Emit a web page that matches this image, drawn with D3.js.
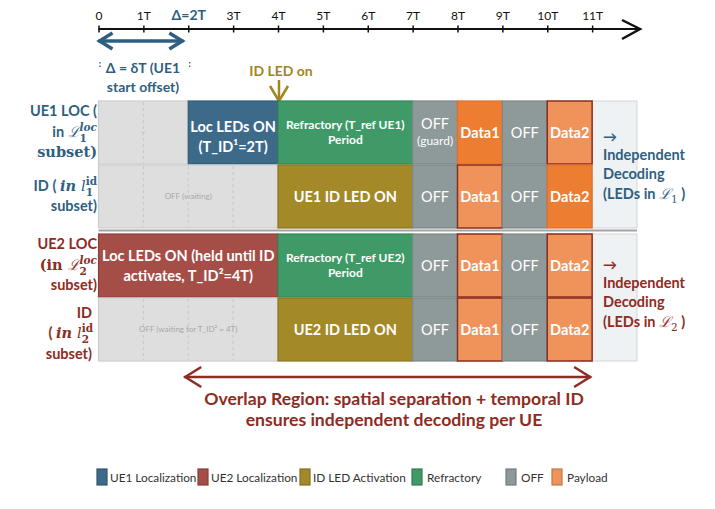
<html>
<head>
<meta charset="utf-8">
<script src="https://d3js.org/d3.v7.min.js"></script>
<style>
  body { margin: 0; background: #fff; }
  text { font-family: Lato, "Open Sans", sans-serif; }
</style>
</head>
<body>
<script>
// ---- data ----
var tickLabels = ["0", "1T", "Δ=2T", "3T", "4T", "5T", "6T", "7T", "8T", "9T", "10T", "11T"]
var rowNames = ["UE1 LOC", "UE1 ID", "UE2 LOC", "UE2 ID"]

var ue1LocSegs = [
  { from: 0, to: 2, kind: "wait", text: ["–"] },
  { from: 2, to: 4, kind: "ue1", text: ["Loc LEDs ON", "(T_ID¹=2T)"] },
  { from: 4, to: 7, kind: "refr", text: ["Refractory (T_ref UE1)", "Period"] },
  { from: 7, to: 8, kind: "off", text: ["OFF", "(guard)"] },
  { from: 8, to: 9, kind: "pay", text: ["Data1"] },
  { from: 9, to: 10, kind: "off", text: ["OFF"] },
  { from: 10, to: 11, kind: "payL", text: ["Data2"] }
]
var ue1IdSegs = [
  { from: 0, to: 4, kind: "wait", text: ["OFF (waiting)"] },
  { from: 4, to: 7, kind: "id", text: ["UE1 ID LED ON"] },
  { from: 7, to: 8, kind: "off", text: ["OFF"] },
  { from: 8, to: 9, kind: "payL", text: ["Data1"] },
  { from: 9, to: 10, kind: "off", text: ["OFF"] },
  { from: 10, to: 11, kind: "pay", text: ["Data2"] }
]
var ue2LocSegs = [
  { from: 0, to: 4, kind: "ue2", text: ["Loc LEDs ON (held until ID", "activates, T_ID²=4T)"] },
  { from: 4, to: 7, kind: "refr", text: ["Refractory (T_ref UE2)", "Period"] },
  { from: 7, to: 8, kind: "off", text: ["OFF"] },
  { from: 8, to: 9, kind: "payL", text: ["Data1"] },
  { from: 9, to: 10, kind: "off", text: ["OFF"] },
  { from: 10, to: 11, kind: "payL", text: ["Data2"] }
]
var ue2IdSegs = [
  { from: 0, to: 4, kind: "wait", text: ["OFF (waiting for T_ID² = 4T)"] },
  { from: 4, to: 7, kind: "id", text: ["UE2 ID LED ON"] },
  { from: 7, to: 8, kind: "off", text: ["OFF"] },
  { from: 8, to: 9, kind: "payL", text: ["Data1"] },
  { from: 9, to: 10, kind: "off", text: ["OFF"] },
  { from: 10, to: 11, kind: "payL", text: ["Data2"] }
]
var rowSegs = [ue1LocSegs, ue1IdSegs, ue2LocSegs, ue2IdSegs]

var legendLabels = ["UE1 Localization", "UE2 Localization", "ID LED Activation", "Refractory", "OFF", "Payload"]
var legendKinds = ["ue1", "ue2", "id", "refr", "off", "payL"]

// ---- styles ----
var kindStyle = {
  wait: { fill: "#dedede", stroke: "#cdcdcd", color: "#a8a8a8", size: 8, weight: "normal", lh: 12, dy: 0 },
  ue1: { fill: "#3e6a8a", stroke: "#335b78", color: "#fff", size: 14.5, weight: "bold", lh: 20, dy: 4 },
  ue2: { fill: "#a54e48", stroke: "#8f3f39", color: "#fff", size: 14.5, weight: "bold", lh: 20, dy: 0 },
  id: { fill: "#a38928", stroke: "#8d7620", color: "#fff", size: 14.5, weight: "bold", lh: 18, dy: 0 },
  refr: { fill: "#409a68", stroke: "#2f8a55", color: "#fff", size: 12, weight: "bold", lh: 15, dy: 0 },
  off: { fill: "#8e9999", stroke: "#7d8888", color: "#fff", size: 14.5, weight: "normal", lh: 17, dy: 0 },
  pay: { fill: "#ed7d31", stroke: "#e0702a", color: "#fff", size: 14.5, weight: "bold", lh: 18, dy: 0 },
  payL: { fill: "#f0935a", stroke: "#8b2d1e", color: "#fff", size: 14.5, weight: "bold", lh: 18, dy: 0 }
}
var blue = "#2f5f80", red = "#8e2b23", olive = "#a08620"

var width = 715, height = 509

var svg = d3.select("body").append("svg")
  .attr("width", width).attr("height", height)

var x = d3.scaleLinear().domain([0, 12]).range([98.5, 637])
var rowTop = d3.scaleOrdinal().domain(rowNames).range([101, 165, 234, 298])
var rowH = 63

// ---- timeline ----
var axisY = 29
var axis = d3.axisTop(x)
  .tickValues(d3.range(tickLabels.length))
  .tickFormat(function (d, i) { return tickLabels[i] })
  .tickSize(3).tickPadding(6)
var ax = svg.append("g").attr("transform", "translate(0," + axisY + ")").call(axis)
ax.select(".domain").remove()
ax.selectAll(".tick line").attr("y1", -3.5).attr("y2", 3.5).attr("stroke", "#111").attr("stroke-width", 1.5)
ax.selectAll(".tick text").attr("font-size", 12).attr("fill", "#111")
  .attr("font-family", "'DejaVu Sans', sans-serif")
  .filter(function (d) { return d === 2 })
  .attr("fill", blue).attr("font-weight", "bold")
  .attr("font-family", "Lato, sans-serif").attr("font-size", 14)
svg.append("line").attr("x1", x(0)).attr("x2", 640).attr("y1", axisY).attr("y2", axisY)
  .attr("stroke", "#111").attr("stroke-width", 2)
svg.append("path").attr("d", "M622," + (axisY - 9) + "L640," + axisY + "L622," + (axisY + 10))
  .attr("fill", "none").attr("stroke", "#111").attr("stroke-width", 2.5)

// offset arrow
var oy = 41
svg.append("line").attr("x1", x(0)).attr("x2", x(1.89)).attr("y1", oy).attr("y2", oy)
  .attr("stroke", blue).attr("stroke-width", 3.5)
svg.append("path")
  .attr("d", "M" + (x(0) + 14) + "," + (oy - 8) + "L" + (x(0) + 1) + "," + oy + "L" + (x(0) + 14) + "," + (oy + 8) +
    "M" + (x(1.89) - 14) + "," + (oy - 8) + "L" + (x(1.89) - 1) + "," + oy + "L" + (x(1.89) - 14) + "," + (oy + 8))
  .attr("fill", "none").attr("stroke", blue).attr("stroke-width", 3.5)
;[0, 2].forEach(function (t) {
  svg.append("line").attr("x1", x(t) + 1.5).attr("x2", x(t) + 1.5).attr("y1", 62).attr("y2", 69)
    .attr("stroke", blue).attr("stroke-width", 1.3).attr("stroke-dasharray", "1.5,2")
})
svg.append("text").attr("x", 143).attr("y", 73).attr("text-anchor", "middle")
  .attr("font-size", 14).attr("font-weight", "bold").attr("fill", blue).text("Δ = δT (UE1")
svg.append("text").attr("x", 143).attr("y", 92).attr("text-anchor", "middle")
  .attr("font-size", 14).attr("font-weight", "bold").attr("fill", blue).text("start offset)")

// ID LED on marker
svg.append("text").attr("x", x(4) + 3).attr("y", 76).attr("text-anchor", "middle")
  .attr("font-size", 14).attr("font-weight", "bold").attr("fill", olive).text("ID LED on")
svg.append("line").attr("x1", x(4) + 1).attr("x2", x(4) + 1).attr("y1", 80).attr("y2", 101)
  .attr("stroke", olive).attr("stroke-width", 2.5)
svg.append("path").attr("d", "M" + (x(4) - 8) + ",86L" + (x(4) + 1) + ",101L" + (x(4) + 10) + ",86")
  .attr("fill", "none").attr("stroke", olive).attr("stroke-width", 2.5)

// ---- rows ----
// light extension after 11T
;[["UE1 LOC", "UE1 ID"], ["UE2 LOC", "UE2 ID"]].forEach(function (pair) {
  svg.append("rect").attr("x", x(11)).attr("y", rowTop(pair[0]))
    .attr("width", x(12) - x(11)).attr("height", rowTop(pair[1]) + rowH - rowTop(pair[0]))
    .attr("fill", "#eef2f4").attr("stroke", "#d2d6d8")
})

rowNames.forEach(function (name, ri) {
  var g = svg.append("g")
  var segs = g.selectAll("g.seg").data(rowSegs[ri]).enter().append("g").attr("class", "seg")
  segs.append("rect")
    .attr("x", function (d) { return x(d.from) })
    .attr("y", rowTop(name))
    .attr("width", function (d) { return x(d.to) - x(d.from) })
    .attr("height", rowH)
    .attr("fill", function (d) { return kindStyle[d.kind].fill })
    .attr("stroke", function (d) { return kindStyle[d.kind].stroke })
    .attr("stroke-width", function (d) { return d.kind === "payL" ? 1.5 : 1.2 })

  // dashed grid inside waiting spans
  rowSegs[ri].filter(function (d) { return d.kind === "wait" }).forEach(function (d) {
    g.selectAll(null).data(d3.range(d.from + 1, d.to)).enter().append("line")
      .attr("x1", function (t) { return x(t) }).attr("x2", function (t) { return x(t) })
      .attr("y1", rowTop(name) + 1).attr("y2", rowTop(name) + rowH - 1)
      .attr("stroke", "#c6c6c6").attr("stroke-dasharray", "3,3")
  })

  segs.each(function (d) {
    var st = kindStyle[d.kind]
    var cx = (x(d.from) + x(d.to)) / 2
    var cy = rowTop(name) + rowH / 2 + st.dy
    var n = d.text.length
    var sel = d3.select(this)
    d.text.forEach(function (line, li) {
      var fs = (d.kind === "off" && li > 0) ? 12 : st.size
      sel.append("text")
        .attr("x", cx)
        .attr("y", cy + (li - (n - 1) / 2) * st.lh + fs * 0.36)
        .attr("text-anchor", "middle")
        .attr("font-size", fs)
        .attr("font-weight", st.weight)
        .attr("fill", st.color)
        .text(line)
    })
  })
})

// separator between UE groups
svg.append("line").attr("x1", x(0)).attr("x2", x(12)).attr("y1", 230.5).attr("y2", 230.5)
  .attr("stroke", "#a3a3a3").attr("stroke-width", 2.2)

// ---- left labels ----
var serif = "'DejaVu Serif', 'Liberation Serif', serif"
function richLine(xr, y, color, parts) {
  var t = svg.append("text").attr("x", xr).attr("y", y).attr("text-anchor", "end")
    .attr("fill", color).attr("font-size", 14.5).attr("font-weight", "bold")
  var lastSub = null
  parts.forEach(function (p) {
    var s = t.append("tspan").text(p.t)
    if (p.serif) s.attr("font-family", serif)
    if (p.italic) s.attr("font-style", "italic")
    if (p.normal) s.attr("font-weight", "normal")
    if (p.sub) { s.attr("font-size", 10.5).attr("dy", 5); lastSub = s }
    if (p.sup) {
      s.attr("font-size", 10.5).attr("dy", -11)
      if (lastSub) s.attr("dx", -lastSub.node().getComputedTextLength())
    }
  })
  return t
}
var lx = 97
richLine(lx, 116, blue, [{ t: "UE1 LOC (" }])
richLine(lx, 137, blue, [{ t: "in " }, { t: "ℒ", serif: true, italic: true, normal: true }, { t: "1", serif: true, sub: true }, { t: "loc", serif: true, italic: true, sup: true }])
richLine(lx, 157, blue, [{ t: "subset)", serif: true }])
richLine(lx, 191, blue, [{ t: "ID ( " }, { t: "in ", serif: true, italic: true }, { t: "l", serif: true, italic: true, normal: true }, { t: "1", serif: true, sub: true }, { t: "id", serif: true, sup: true }])
richLine(lx, 211, blue, [{ t: "subset)" }])

richLine(lx, 249, red, [{ t: "UE2 LOC" }])
richLine(lx, 270, red, [{ t: "(in ", serif: true }, { t: "ℒ", serif: true, italic: true, normal: true }, { t: "2", serif: true, sub: true }, { t: "loc", serif: true, italic: true, sup: true }])
richLine(lx, 290, red, [{ t: "subset)" }])
richLine(lx - 5, 318, red, [{ t: "ID" }])
richLine(lx - 4, 338, red, [{ t: "( " }, { t: "in ", serif: true, italic: true }, { t: "l", serif: true, italic: true, normal: true }, { t: "2", serif: true, sub: true }, { t: "id", serif: true, sup: true }])
richLine(lx - 5, 359, red, [{ t: "subset)" }])

// ---- right annotations ----
function rightNote(y0, color, idx) {
  var rx = 603
  svg.append("text").attr("x", rx).attr("y", y0).attr("font-size", 14).attr("font-weight", "bold")
    .attr("fill", color).attr("font-family", "'DejaVu Sans', sans-serif").text("→")
  svg.append("text").attr("x", rx).attr("y", y0 + 18).attr("font-size", 14.5).attr("font-weight", "bold")
    .attr("fill", color).text("Independent")
  svg.append("text").attr("x", rx).attr("y", y0 + 37).attr("font-size", 14.5).attr("font-weight", "bold")
    .attr("fill", color).text("Decoding")
  var t = svg.append("text").attr("x", rx).attr("y", y0 + 57).attr("font-size", 14.5).attr("font-weight", "bold")
    .attr("fill", color)
  t.append("tspan").text("(LEDs in ")
  t.append("tspan").attr("font-family", serif).attr("font-style", "italic").attr("font-weight", "normal").text("ℒ")
  t.append("tspan").attr("font-family", serif).attr("font-weight", "normal").attr("font-size", 10.5).attr("dy", 4).text(idx)
  t.append("tspan").attr("dy", -4).text(" )")
}
rightNote(142, blue, "1")
rightNote(270, red, "2")

// ---- overlap region ----
var ovY = 377
svg.append("line").attr("x1", x(2) - 4).attr("x2", x(11) - 1).attr("y1", ovY).attr("y2", ovY)
  .attr("stroke", red).attr("stroke-width", 2.5)
svg.append("path")
  .attr("d", "M" + (x(2) + 13) + "," + (ovY - 10) + "L" + (x(2) - 3) + "," + ovY + "L" + (x(2) + 13) + "," + (ovY + 10) +
    "M" + (x(11) - 18) + "," + (ovY - 10) + "L" + (x(11) - 2) + "," + ovY + "L" + (x(11) - 18) + "," + (ovY + 10))
  .attr("fill", "none").attr("stroke", red).attr("stroke-width", 2.5)
svg.append("text").attr("x", 394).attr("y", 405).attr("text-anchor", "middle")
  .attr("font-size", 17.6).attr("font-weight", "bold").attr("fill", red)
  .text("Overlap Region: spatial separation + temporal ID")
svg.append("text").attr("x", 394).attr("y", 426).attr("text-anchor", "middle")
  .attr("font-size", 17.6).attr("font-weight", "bold").attr("fill", red)
  .text("ensures independent decoding per UE")

// ---- legend ----
var legendX = d3.scaleOrdinal().domain(legendLabels).range([97, 198, 300, 412, 506, 552])
var lg = svg.selectAll("g.legend").data(legendLabels).enter().append("g").attr("class", "legend")
  .attr("transform", function (d) { return "translate(" + legendX(d) + ",469)" })
lg.append("rect").attr("width", 10).attr("height", 16)
  .attr("fill", function (d, i) { return kindStyle[legendKinds[i]].fill })
  .attr("stroke", function (d, i) { return d3.color(kindStyle[legendKinds[i]].fill).darker(0.6) })
  .attr("stroke-width", 1.2)
lg.append("text").attr("x", function (d, i) { return i >= 3 ? 15 : 13 }).attr("y", 13)
  .attr("font-size", 11.8).attr("fill", "#333").text(function (d) { return d })
</script>
</body>
</html>
